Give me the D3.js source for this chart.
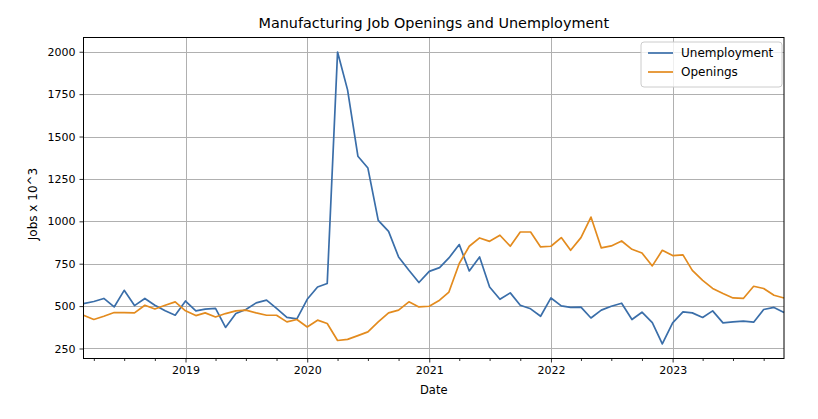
<!DOCTYPE html>
<html>
<head>
<meta charset="utf-8">
<script src="https://cdn.jsdelivr.net/npm/d3@7"></script>
<style>
  html, body { margin: 0; padding: 0; background: #fff; }
  svg { display: block; font-family: "DejaVu Sans", sans-serif; }
</style>
</head>
<body>
<svg id="chart" width="818" height="419"></svg>
<script>
const months = [
  "2018-03","2018-04","2018-05","2018-06","2018-07","2018-08","2018-09","2018-10","2018-11","2018-12",
  "2019-01","2019-02","2019-03","2019-04","2019-05","2019-06","2019-07","2019-08","2019-09","2019-10","2019-11","2019-12",
  "2020-01","2020-02","2020-03","2020-04","2020-05","2020-06","2020-07","2020-08","2020-09","2020-10","2020-11","2020-12",
  "2021-01","2021-02","2021-03","2021-04","2021-05","2021-06","2021-07","2021-08","2021-09","2021-10","2021-11","2021-12",
  "2022-01","2022-02","2022-03","2022-04","2022-05","2022-06","2022-07","2022-08","2022-09","2022-10","2022-11","2022-12",
  "2023-01","2023-02","2023-03","2023-04","2023-05","2023-06","2023-07","2023-08","2023-09","2023-10","2023-11","2023-12"
];
const unemployment = [
  515,527,545,495,593,503,545,505,472,446,
  530,472,482,487,374,456,480,519,535,486,433,425,
  540,613,633,1998,1775,1384,1314,1006,941,790,711,639,
  705,727,784,863,707,790,613,540,578,505,484,440,
  548,501,492,494,430,476,499,517,421,464,402,277,
  401,466,460,433,472,401,407,411,405,480,492,462
];
const openings = [
  446,421,440,462,462,460,505,483,505,525,
  472,444,460,436,456,472,476,460,446,446,407,421,
  377,417,397,297,304,326,348,407,460,476,525,495,
  499,535,583,751,853,902,882,918,853,937,937,849,
  853,904,829,904,1025,843,855,884,835,813,737,829,
  798,802,711,652,604,574,548,545,617,604,564,548
];
const seriesNames = ["Unemployment", "Openings"];
const seriesColors = ["#3a6ea9", "#e38b1e"];
const yTickValues = [250, 500, 750, 1000, 1250, 1500, 1750, 2000];
const xTickLabels = ["2019", "2020", "2021", "2022", "2023"];
const minorTickMonths = [3, 6, 9]; // Apr, Jul, Oct (0-based)

const svg = d3.select("#chart");
const m = { left: 83.5, right: 784, top: 37.5, bottom: 358.5 };

const dates = months.map(s => d3.utcParse("%Y-%m")(s));
const x = d3.scaleUtc().domain(d3.extent(dates)).range([m.left, m.right]);

const allVals = unemployment.concat(openings);
const [vmin, vmax] = d3.extent(allVals);
const pad = (vmax - vmin) * 0.05;
const y = d3.scaleLinear().domain([vmin - pad, vmax + pad]).range([m.bottom, m.top]);

// grid
const gGrid = svg.append("g");
const yearDates = xTickLabels.map(s => d3.utcParse("%Y")(s));
gGrid.selectAll("line.vg").data(yearDates).join("line")
  .attr("x1", d => Math.round(x(d)) + 0.5).attr("x2", d => Math.round(x(d)) + 0.5)
  .attr("y1", m.top).attr("y2", m.bottom)
  .attr("stroke", "#b0b0b0").attr("stroke-width", 1);
gGrid.selectAll("line.hg").data(yTickValues).join("line")
  .attr("x1", m.left).attr("x2", m.right)
  .attr("y1", d => Math.round(y(d)) + 0.5).attr("y2", d => Math.round(y(d)) + 0.5)
  .attr("stroke", "#b0b0b0").attr("stroke-width", 1);

// lines
const seriesData = [unemployment, openings];
const line = d3.line().x((d, i) => x(dates[i])).y(d => y(d));
svg.append("g").selectAll("path").data(seriesData).join("path")
  .attr("d", d => line(d))
  .attr("fill", "none")
  .attr("stroke", (d, i) => seriesColors[i])
  .attr("stroke-width", 1.7)
  .attr("stroke-linejoin", "round");

// axes
const xAxis = d3.axisBottom(x).tickValues(yearDates).tickFormat((d, i) => xTickLabels[i]).tickSizeOuter(0).tickSize(4).tickPadding(4);
const gx = svg.append("g").attr("transform", `translate(0,${m.bottom})`).call(xAxis);
const minorDates = d3.utcMonth.range(dates[0], dates[dates.length - 1]).filter(d => minorTickMonths.includes(d.getUTCMonth()));
const xMinor = d3.axisBottom(x).tickValues(minorDates).tickFormat("").tickSizeOuter(0).tickSize(2.5);
const gxm = svg.append("g").attr("transform", `translate(0,${m.bottom})`).call(xMinor);
gxm.select(".domain").remove();

const yAxis = d3.axisLeft(y).tickValues(yTickValues).tickFormat(d3.format("d")).tickSizeOuter(0).tickSize(4).tickPadding(4);
const gy = svg.append("g").attr("transform", `translate(${m.left},0)`).call(yAxis);

[gx, gxm, gy].forEach(g => {
  g.selectAll("text").attr("font-family", "DejaVu Sans, sans-serif").attr("font-size", 11).attr("fill", "#000");
  g.selectAll("line").attr("stroke", "#000").attr("stroke-width", 0.8);
  g.selectAll(".domain").remove();
});

// spines
svg.append("rect")
  .attr("x", m.left).attr("y", m.top)
  .attr("width", m.right - m.left).attr("height", m.bottom - m.top)
  .attr("fill", "none").attr("stroke", "#000").attr("stroke-width", 1);

// title and labels
svg.append("text").attr("x", (m.left + m.right) / 2).attr("y", 28)
  .attr("text-anchor", "middle").attr("font-size", 14.4).text("Manufacturing Job Openings and Unemployment");
svg.append("text").attr("x", (m.left + m.right) / 2).attr("y", 394)
  .attr("text-anchor", "middle").attr("font-size", 11.5).text("Date");
svg.append("text").attr("transform", `translate(37,${(m.top + m.bottom) / 2 + 6}) rotate(-90)`)
  .attr("text-anchor", "middle").attr("font-size", 12).text("Jobs x 10^3");

// legend
const lg = svg.append("g").attr("transform", "translate(641,42)");
lg.append("rect").attr("width", 141).attr("height", 45).attr("rx", 3)
  .attr("fill", "#fff").attr("fill-opacity", 0.8).attr("stroke", "#cccccc");
seriesNames.forEach((name, i) => {
  const yy = 11 + i * 19;
  lg.append("line").attr("x1", 7).attr("x2", 32).attr("y1", yy).attr("y2", yy)
    .attr("stroke", seriesColors[i]).attr("stroke-width", 1.7);
  lg.append("text").attr("x", 40).attr("y", yy + 4).attr("font-size", 12).text(name);
});
</script>
</body>
</html>
